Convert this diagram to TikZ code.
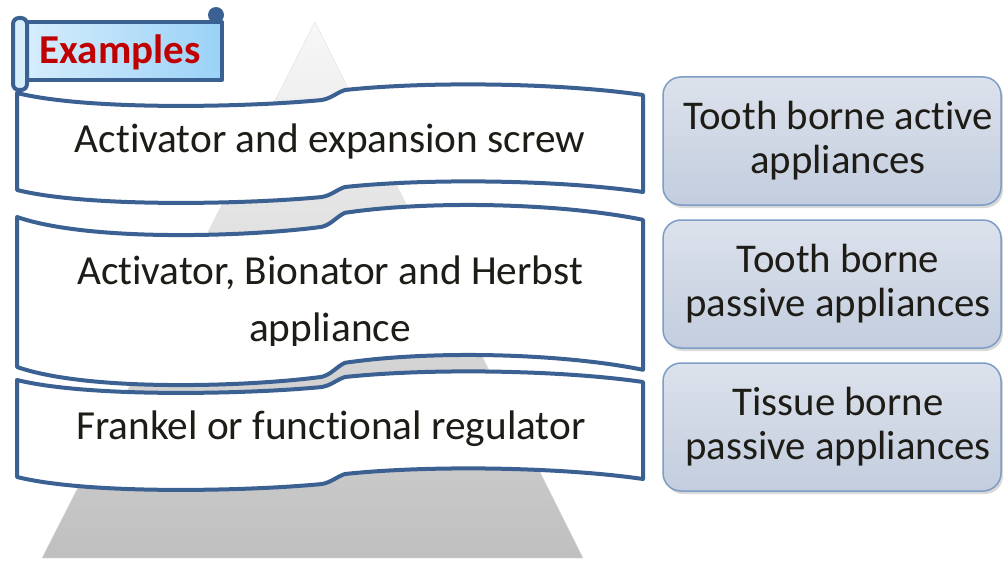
\documentclass[tikz,border=0pt]{standalone}
\usepackage{fontspec}
\setmainfont[Ligatures=NoCommon]{Carlito}
\usetikzlibrary{shadows}
\definecolor{bannerblue}{HTML}{3B6192}
\definecolor{scrolltop}{HTML}{D6EDFC}
\definecolor{scrollbot}{HTML}{9AD2F7}
\definecolor{boxtop}{HTML}{DCE2EC}
\definecolor{boxbot}{HTML}{C3CDDE}
\definecolor{boxedge}{HTML}{7D9CC6}
\definecolor{examplered}{HTML}{C00000}
\definecolor{textdark}{HTML}{1E1C16}
\newcommand{\wavebanner}[3]{%
  \draw[banner] (17,#1) .. controls (90,#1+18*#3) and (250,#1+14*#3) .. (322,#1+7*#3)
    .. controls (332,#1+5*#3) and (336,#1) .. (345,#1-3*#3)
    .. controls (430,#1-12*#3) and (560,#1-10*#3) .. (643,#1+2*#3)
    -- (643,#2+2*#3)
    .. controls (560,#2-10*#3) and (430,#2-12*#3) .. (345,#2-3*#3)
    .. controls (336,#2) and (332,#2+5*#3) .. (322,#2+7*#3)
    .. controls (250,#2+14*#3) and (90,#2+18*#3) .. (17,#2) -- cycle;}
\begin{document}
\begin{tikzpicture}[x=1pt,y=-1pt,
    banner/.style={draw=bannerblue,line width=4pt,fill=white,line join=round},
    bannertext/.style={anchor=base,text=textdark,font=\fontsize{41.3}{57}\selectfont,align=center},
    kindbox/.style={draw=boxedge,line width=1.5pt,rounded corners=18pt,top color=boxtop,bottom color=boxbot,
      minimum width=338pt,minimum height=128pt,
      drop shadow={shadow xshift=2pt,shadow yshift=-3pt,opacity=0.3}},
    kindtext/.style={text=textdark,font=\fontsize{40.8}{44}\selectfont,align=center,xshift=6pt},
    scrollline/.style={draw=bannerblue,line width=4pt,line join=round}]
  \useasboundingbox (0,0) rectangle (1003,564);
  \shade[top color=gray!6,bottom color=gray!50,draw=gray!25] (315,22) -- (583,558) -- (42,558) -- cycle;
  \wavebanner{93}{190}{1}
  \wavebanner{217}{367}{1.4}
  \wavebanner{380}{477}{1}
  \node[bannertext] (screw) at (330,153) {Activator and expansion screw};
  \begin{scope}
    \clip (0,0) rectangle (1003,345);
    \node[bannertext] (herbst) at (330,341) {Activator, Bionator and Herbst\\appliance};
  \end{scope}
  \node[bannertext] (frankel) at (331,439) {Frankel or functional regulator};
  \shade[scrollline,left color=scrolltop,right color=scrollbot] (25,22) rectangle (222,80);
  \fill[bannerblue] (216,15) circle[radius=8pt];
  \draw[scrollline,fill=scrolltop,rounded corners=6pt] (13,18) rectangle (27,90);
  \node[anchor=base,text=examplered,font=\fontsize{41}{48}\selectfont\bfseries] (examples) at (120,64) {Examples};
  \node[kindbox] (active) at (832,141) {};
  \node[kindbox] (toothpassive) at (832,284) {};
  \node[kindbox] (tissuepassive) at (832,427) {};
  \node[kindtext] (activetext) at (active) {Tooth borne active\\appliances};
  \node[kindtext] (toothpassivetext) at (toothpassive) {Tooth borne\\passive appliances};
  \node[kindtext] (tissuepassivetext) at (tissuepassive) {Tissue borne\\passive appliances};
\end{tikzpicture}
\end{document}
